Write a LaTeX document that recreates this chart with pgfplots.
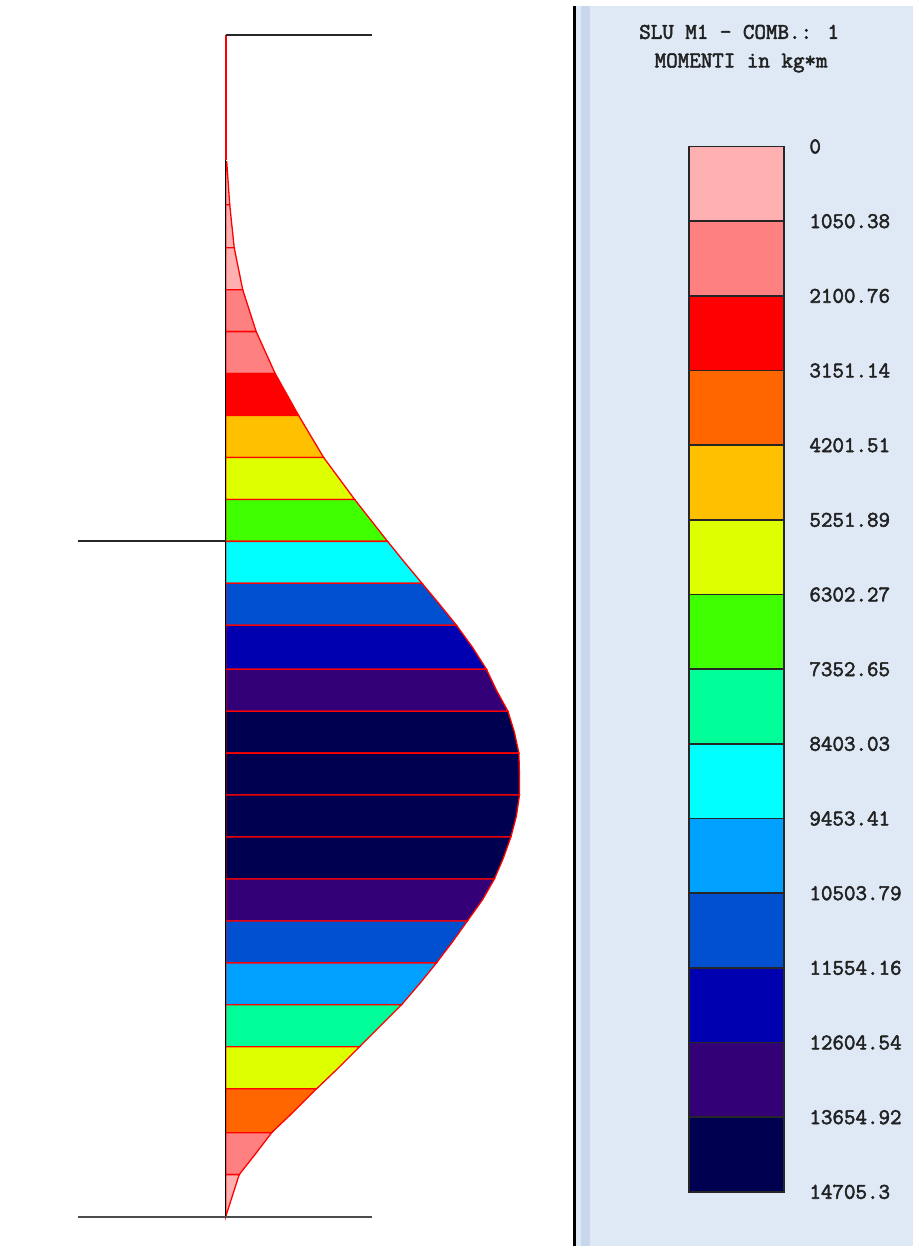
\documentclass[border=0pt]{standalone}
\usepackage{fontspec}
\newfontfamily\legmono{Latin Modern Mono}[FakeBold=2.4]
\usepackage{pgfplots}
\pgfplotsset{compat=1.18}

% colour classes of the legend, top (0) to bottom (max)
\definecolor{m01}{HTML}{FFB0B0}
\definecolor{m02}{HTML}{FF8080}
\definecolor{m03}{HTML}{FF0000}
\definecolor{m04}{HTML}{FF6600}
\definecolor{m05}{HTML}{FFC000}
\definecolor{m06}{HTML}{DDFF00}
\definecolor{m07}{HTML}{40FF00}
\definecolor{m08}{HTML}{00FF99}
\definecolor{m09}{HTML}{00FFFF}
\definecolor{m10}{HTML}{00A0FF}
\definecolor{m11}{HTML}{0050D0}
\definecolor{m12}{HTML}{0000B0}
\definecolor{m13}{HTML}{330077}
\definecolor{m14}{HTML}{000050}
\definecolor{panel}{HTML}{DEE9F5}
\definecolor{strip}{HTML}{C8D7EB}
\definecolor{txt}{HTML}{222222}

\newcommand\legfont{\legmono\fontsize{11.2}{12}\selectfont}

\pgfplotsset{
  band/.style={fill=#1, draw=red, line width=0.65pt},
  box/.style={fill=#1, draw=black!85, line width=0.75pt},
}

\begin{document}
\begin{tikzpicture}
% frame: one unit = one pixel of the screen shot
\begin{axis}[
    scale only axis, width=457pt, height=623.5pt,
    xmin=0, xmax=914, ymin=0, ymax=1247, y dir=reverse,
    hide axis, clip=false,
]
\addplot[draw=none, fill=white] coordinates {(0,0)(914,0)(914,1247)(0,1247)} -- cycle;
\addplot[draw=none, fill=panel] coordinates {(577,6)(914,6)(914,1247)(577,1247)} -- cycle;
\addplot[draw=none, fill=strip] coordinates {(582,6)(591,6)(591,1247)(582,1247)} -- cycle;
\addplot[black, line width=1.5pt] coordinates {(575,6)(575,1247)};
\node[font=\legfont, text=txt] at (axis cs:740,32) {SLU M1 - COMB.: 1};
\node[font=\legfont, text=txt] at (axis cs:742,63) {MOMENTI in kg*m};
\end{axis}

% moment diagram: x = moment (kg*m), y = depth (px)
\begin{axis}[
    scale only axis, width=457pt, height=623.5pt,
    xmin=-11300, xmax=34400, ymin=0, ymax=1247, y dir=reverse,
    hide axis, clip=false,
]
\addplot[band=m01] coordinates {(0,162)(50,162)(200,205)(0,205)} -- cycle;
\addplot[band=m01] coordinates {(0,205)(200,205)(425,248)(0,248)} -- cycle;
\addplot[band=m01] coordinates {(0,248)(425,248)(850,290)(0,290)} -- cycle;
\addplot[band=m02] coordinates {(0,290)(850,290)(1525,332)(0,332)} -- cycle;
\addplot[band=m02] coordinates {(0,332)(1525,332)(2475,374)(0,374)} -- cycle;
\addplot[band=m03] coordinates {(0,374)(2475,374)(3650,416)(0,416)} -- cycle;
\addplot[band=m05] coordinates {(0,416)(3650,416)(4900,458)(0,458)} -- cycle;
\addplot[band=m06] coordinates {(0,458)(4900,458)(6450,500)(0,500)} -- cycle;
\addplot[band=m07] coordinates {(0,500)(6450,500)(8100,542)(0,542)} -- cycle;
\addplot[band=m09] coordinates {(0,542)(8100,542)(8950,563)(9825,584)(0,584)} -- cycle;
\addplot[band=m11] coordinates {(0,584)(9825,584)(10700,605)(11550,626)(0,626)} -- cycle;
\addplot[band=m12] coordinates {(0,626)(11550,626)(12350,648)(13050,670)(0,670)} -- cycle;
\addplot[band=m13] coordinates {(0,670)(13050,670)(13550,691)(14125,712)(0,712)} -- cycle;
\addplot[band=m14] coordinates {(0,712)(14125,712)(14450,733)(14675,754)(0,754)} -- cycle;
\addplot[band=m14] coordinates {(0,754)(14675,754)(14705,775)(14705,796)(0,796)} -- cycle;
\addplot[band=m14] coordinates {(0,796)(14705,796)(14550,817)(14275,838)(0,838)} -- cycle;
\addplot[band=m14] coordinates {(0,838)(14275,838)(13900,859)(13450,880)(0,880)} -- cycle;
\addplot[band=m13] coordinates {(0,880)(13450,880)(12850,901)(12100,922)(0,922)} -- cycle;
\addplot[band=m11] coordinates {(0,922)(12100,922)(11350,943)(10550,964)(0,964)} -- cycle;
\addplot[band=m10] coordinates {(0,964)(10550,964)(9700,985)(8800,1006)(0,1006)} -- cycle;
\addplot[band=m08] coordinates {(0,1006)(8800,1006)(7750,1027)(6700,1048)(0,1048)} -- cycle;
\addplot[band=m06] coordinates {(0,1048)(6700,1048)(5650,1069)(4550,1090)(0,1090)} -- cycle;
\addplot[band=m04] coordinates {(0,1090)(4550,1090)(3450,1112)(2300,1134)(0,1134)} -- cycle;
\addplot[band=m02] coordinates {(0,1134)(2300,1134)(1500,1155)(675,1176)(0,1176)} -- cycle;
\addplot[band=m01] coordinates {(0,1176)(675,1176)(0,1218)} -- cycle;
% pile and levels
\addplot[draw=red, line width=0.8pt] coordinates {(0,35)(0,160)};
\addplot[draw=black, line width=0.7pt] coordinates {(0,160)(0,1218)};
\addplot[draw=black!85, line width=0.9pt] coordinates {(0,35)(7300,35)};
\addplot[draw=black!85, line width=0.9pt] coordinates {(-7400,542)(0,542)};
\addplot[draw=black!70, line width=1pt] coordinates {(-7400,1218)(7300,1218)};
\end{axis}

% legend colour bar
\begin{axis}[
    scale only axis, width=47.5pt, height=523.3pt,
    at={(345pt,550.15pt)}, anchor=north west,
    xmin=0, xmax=1, ymin=0, ymax=14705.3, y dir=reverse,
    axis line style={black!85, line width=0.75pt},
    xtick=\empty, major tick length=0pt, scaled y ticks=false,
    yticklabel pos=right,
    ytick={0,1050.38,2100.76,3151.14,4201.51,5251.89,6302.27,7352.65,8403.03,9453.41,10503.79,11554.16,12604.54,13654.92,14705.3},
    yticklabels={0,1050.38,2100.76,3151.14,4201.51,5251.89,6302.27,7352.65,8403.03,9453.41,10503.79,11554.16,12604.54,13654.92,14705.3},
    yticklabel style={font=\legfont, text=txt, anchor=west, inner sep=0pt, xshift=12.5pt},
    clip=false,
]
\addplot[box=m01] coordinates {(0,0)(1,0)(1,1050.38)(0,1050.38)} -- cycle;
\addplot[box=m02] coordinates {(0,1050.38)(1,1050.38)(1,2100.76)(0,2100.76)} -- cycle;
\addplot[box=m03] coordinates {(0,2100.76)(1,2100.76)(1,3151.14)(0,3151.14)} -- cycle;
\addplot[box=m04] coordinates {(0,3151.14)(1,3151.14)(1,4201.51)(0,4201.51)} -- cycle;
\addplot[box=m05] coordinates {(0,4201.51)(1,4201.51)(1,5251.89)(0,5251.89)} -- cycle;
\addplot[box=m06] coordinates {(0,5251.89)(1,5251.89)(1,6302.27)(0,6302.27)} -- cycle;
\addplot[box=m07] coordinates {(0,6302.27)(1,6302.27)(1,7352.65)(0,7352.65)} -- cycle;
\addplot[box=m08] coordinates {(0,7352.65)(1,7352.65)(1,8403.03)(0,8403.03)} -- cycle;
\addplot[box=m09] coordinates {(0,8403.03)(1,8403.03)(1,9453.41)(0,9453.41)} -- cycle;
\addplot[box=m10] coordinates {(0,9453.41)(1,9453.41)(1,10503.79)(0,10503.79)} -- cycle;
\addplot[box=m11] coordinates {(0,10503.79)(1,10503.79)(1,11554.16)(0,11554.16)} -- cycle;
\addplot[box=m12] coordinates {(0,11554.16)(1,11554.16)(1,12604.54)(0,12604.54)} -- cycle;
\addplot[box=m13] coordinates {(0,12604.54)(1,12604.54)(1,13654.92)(0,13654.92)} -- cycle;
\addplot[box=m14] coordinates {(0,13654.92)(1,13654.92)(1,14705.3)(0,14705.3)} -- cycle;
\end{axis}
\end{tikzpicture}
\end{document}
